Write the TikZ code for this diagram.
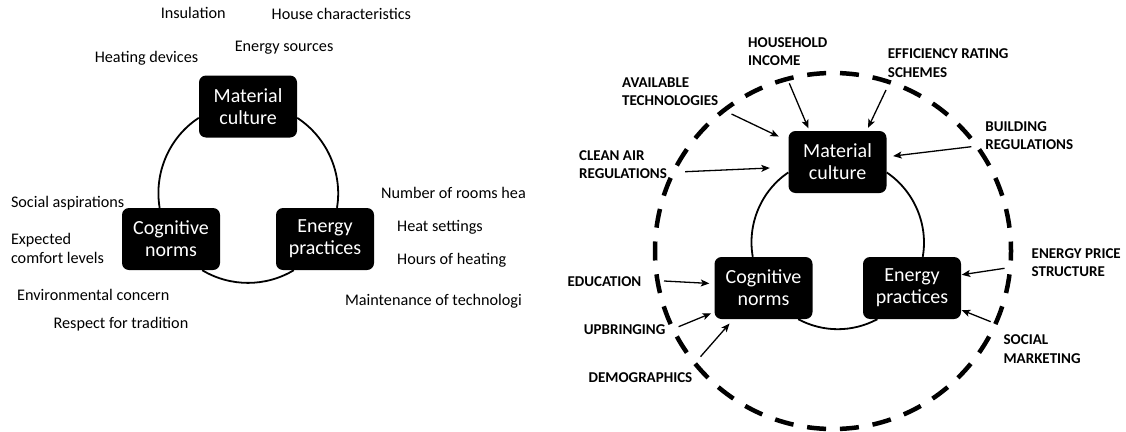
\documentclass[tikz,border=0pt]{standalone}
\usepackage{fontspec}
\setmainfont{Carlito}
\usetikzlibrary{arrows.meta}
\begin{document}
\begin{tikzpicture}[x=1pt,y=-1pt,
  box/.style={fill=black, rounded corners=7pt, minimum width=98pt, minimum height=62pt,
    inner sep=0pt, text=white, align=center, font=\fontsize{20}{21.8}\selectfont},
  lbl/.style={anchor=base west, inner sep=0pt, align=left, font=\fontsize{16.2}{19.3}\selectfont},
  caplbl/.style={anchor=base west, inner sep=0pt, align=left, font=\bfseries\fontsize{15}{18.5}\selectfont},
  link/.style={line width=1.8pt, looseness=0.92},
  push/.style={line width=1.3pt, -{Stealth[length=8.5pt,width=7pt,inset=2pt]}},
  ring/.style={line width=4.5pt, dash pattern=on 19pt off 13.9pt, dash phase=9.5pt}
]
\useasboundingbox (0,0) rectangle (1126,431);

% ---------- left: the three elements and their examples ----------
\node[box] (mcA) at (248,106.5) {Material\\culture};
\node[box] (cnA) at (171,239) {Cognitive\\norms};
\node[box] (epA) at (325,239) {Energy\\practices};

\draw[link] (mcA.193) to[out=213,in=99.6] (cnA.110.7);
\draw[link] (mcA.347) to[out=-33,in=80.4] (epA.69.3);
\draw[link] (cnA.-45) to[out=-31,in=211] (epA.225.6);

% multi-line labels sit on the baseline of their last line
\node[lbl] (insul) at (160.6,18.8) {Insulation};
\node[lbl] (house) at (271.5,19.5) {House characteristics};
\node[lbl] (esrc)  at (234.6,51.2) {Energy sources};
\node[lbl] (heatd) at (94.6,62.8) {Heating devices};
\node[lbl] (soca)  at (10.8,207.2) {Social aspirations};
\node[lbl] (expc)  at (10.8,263.8) {Expected\\comfort levels};
\node[lbl] (envc)  at (17,300.5) {Environmental concern};
\node[lbl] (resp)  at (53.4,328.2) {Respect for tradition};
\node[lbl] (rooms) at (380.9,198.2) {Number of rooms hea};
\node[lbl] (hset)  at (397,231.2) {Heat settings};
\node[lbl] (hours) at (397,264.5) {Hours of heating};
\node[lbl] (maint) at (344.8,305.5) {Maintenance of technologi};

% ---------- right: the three elements and outside influences ----------
\coordinate (hub) at (833,251);
\draw[ring] (hub) circle[radius=178];

\node[box] (mcB) at (837.5,162) {Material\\culture};
\node[box] (cnB) at (763.5,288) {Cognitive\\norms};
\node[box] (epB) at (912,288) {Energy\\practices};

\draw[link] (mcB.192) to[out=214,in=100] (cnB.109.4);
\draw[link] (mcB.348) to[out=-34,in=80] (epB.71.5);
\draw[link] (cnB.-42.2) to[out=-28,in=208] (epB.222.1);

\node[caplbl] (income) at (748,65.5) {HOUSEHOLD\\INCOME};
\node[caplbl] (rating) at (887.7,77.2) {EFFICIENCY RATING\\SCHEMES};
\node[caplbl] (avail)  at (622,105.9) {AVAILABLE\\TECHNOLOGIES};
\node[caplbl] (clean)  at (579,178.9) {CLEAN AIR\\REGULATIONS};
\node[caplbl] (build)  at (985.2,149.9) {BUILDING\\REGULATIONS};
\node[caplbl] (price)  at (1031.5,276.5) {ENERGY PRICE\\STRUCTURE};
\node[caplbl] (educ)   at (567.3,286.4) {EDUCATION};
\node[caplbl] (upbr)   at (583.7,334) {UPBRINGING};
\node[caplbl] (demo)   at (588.5,382.4) {DEMOGRAPHICS};
\node[caplbl] (social) at (1003.4,363.2) {SOCIAL\\MARKETING};

\coordinate (fIncome) at (789.3,83.3);
\coordinate (fRating) at (886,90);
\coordinate (fAvail)  at (731.5,114);
\coordinate (fClean)  at (685.2,171.7);
\coordinate (fBuild)  at (971.3,146.7);
\coordinate (fPrice)  at (1004.5,268.3);
\coordinate (fSocial) at (990.7,321.7);
\coordinate (fEduc)   at (664,281);
\coordinate (fUpbr)   at (678.6,326.7);
\coordinate (fDemo)   at (700.5,356.7);

\draw[push, shorten >=2.7pt] (fIncome) -- (mcB.132.3);
\draw[push, shorten >=3.3pt] (fRating) -- (mcB.47.3);
\draw[push, shorten >=10.6pt] (fAvail) -- (mcB.157.8);
\draw[push, shorten >=18.5pt] (fClean) -- (mcB.186.5);
\draw[push, shorten >=6.5pt] (fBuild) -- (mcB.6.1);
\draw[push, shorten >=0.5pt] (fPrice) -- (epB.15.9);
\draw[push, shorten >=0.5pt] (fSocial) -- (epB.336.5);
\draw[push, shorten >=5pt] (fEduc) -- (cnB.175.7);
\draw[push, shorten >=3.5pt] (fUpbr) -- (cnB.206.2);
\draw[push, shorten >=5.8pt] (fDemo) -- (cnB.226.7);
\end{tikzpicture}
\end{document}
